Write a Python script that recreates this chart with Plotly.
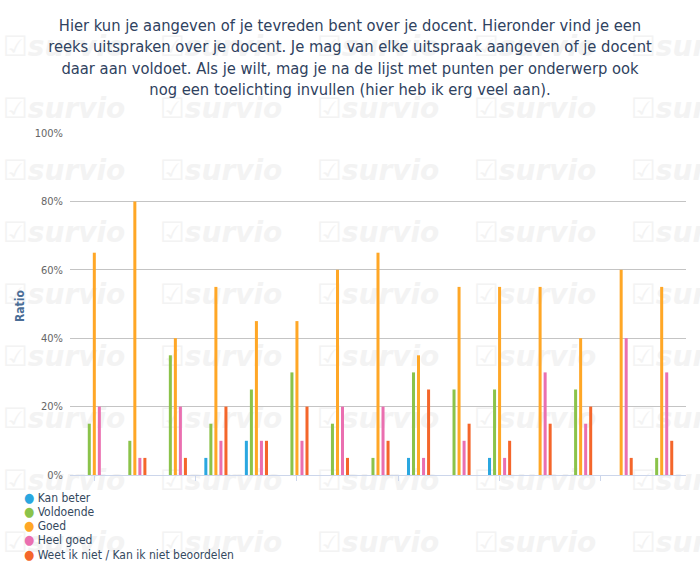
import plotly.graph_objects as go

# ---- data ----
groups = list(range(15))  # 15 statements (no labels shown)
series_names = ["Kan beter", "Voldoende", "Goed", "Heel goed",
                "Weet ik niet / Kan ik niet beoordelen"]
kan_beter = [0, 0, 0, 5, 10, 0, 0, 0, 5, 0, 5, 0, 0, 0, 0]
voldoende = [15, 10, 35, 15, 25, 30, 15, 5, 30, 25, 25, 0, 25, 0, 5]
goed = [65, 80, 40, 55, 45, 45, 60, 65, 35, 55, 55, 55, 40, 60, 55]
heel_goed = [20, 5, 20, 10, 10, 10, 20, 20, 5, 10, 5, 30, 15, 40, 30]
weet_niet = [0, 5, 5, 20, 10, 20, 5, 10, 25, 15, 10, 15, 20, 5, 10]
series_values = [kan_beter, voldoende, goed, heel_goed, weet_niet]
colors = ["#2aa7e0", "#8bc34a", "#ffa726", "#ea6fb0", "#f4662b"]
y_ticks = [0, 20, 40, 60, 80, 100]
y_tick_labels = ["0%", "20%", "40%", "60%", "80%", "100%"]

title_lines = [
    "Hier kun je aangeven of je tevreden bent over je docent. Hieronder vind je een",
    "reeks uitspraken over je docent. Je mag van elke uitspraak aangeven of je docent",
    "daar aan voldoet. Als je wilt, mag je na de lijst met punten per onderwerp ook",
    "nog een toelichting invullen (hier heb ik erg veel aan).",
]

FONT = "DejaVu Sans Condensed, DejaVu Sans, sans-serif"
W, H = 700, 581
L, R, T, B = 70, 14, 133, 106
PW, PH = W - L - R, H - T - B

def px_to_paper(px, py):
    return (px - L) / PW, (H - B - py) / PH

fig = go.Figure()
for name, vals, col in zip(series_names, series_values, colors):
    fig.add_trace(go.Bar(x=groups, y=vals, name=name, marker_color=col,
                         marker_line_width=0, showlegend=False))

# watermark tiles (background decoration)
shapes = []
for j in range(10):
    for k in range(5):
        cx, cy = 64 + 157 * k, 44 + 62 * j
        x0, y0 = px_to_paper(cx - 70, cy - 25)
        x1, y1 = px_to_paper(cx + 70, cy + 25)
        shapes.append(dict(type="rect", xref="paper", yref="paper",
                           x0=x0, x1=x1, y0=y1, y1=y0, line_width=0,
                           fillcolor="rgba(0,0,0,0)", layer="below",
                           label=dict(text="☑survio", textposition="middle center",
                                      font=dict(family="DejaVu Sans", size=28,
                                                color="#f3f3f3", weight="bold",
                                                style="italic"))))

annotations = []
# y axis title
ax, ay = px_to_paper(20, 306)
annotations.append(dict(xref="paper", yref="paper", x=ax, y=ay, text="<b>Ratio</b>",
                        textangle=-90, showarrow=False, xanchor="center", yanchor="middle",
                        font=dict(family=FONT, size=12, color="#4a6d96")))
# legend (built from series names and colours)
for i, (name, col) in enumerate(zip(series_names, colors)):
    py = 497 + 14.3 * i
    tx, ty = px_to_paper(22, py)
    annotations.append(dict(xref="paper", yref="paper", x=tx, y=ty,
                            text=f"<span style='color:{col};font-size:13px'>●</span> {name}",
                            showarrow=False, xanchor="left", yanchor="middle",
                            font=dict(family=FONT, size=12, color="#34495e")))

fig.update_layout(
    width=W, height=H,
    margin=dict(l=L, r=R, t=T, b=B),
    paper_bgcolor="white", plot_bgcolor="rgba(0,0,0,0)",
    barmode="group", bargap=0.38, bargroupgap=0.4,
    title=dict(text="<br>".join(title_lines), x=0.5, xanchor="center",
               y=1 - 31 / H, yanchor="top", yref="container",
               font=dict(family=FONT, size=16.4, color="#2f4260")),
    xaxis=dict(range=[-0.6, 14.6], tickmode="linear", tick0=0, dtick=2.5,
               showticklabels=False, ticks="outside", ticklen=5, tickcolor="#ccd6eb",
               showline=True, linecolor="#ccd6eb", linewidth=1, showgrid=False,
               zeroline=False),
    yaxis=dict(range=[0, 100], tickvals=y_ticks, ticktext=y_tick_labels,
               showgrid=True, gridcolor="#c4c4c4", gridwidth=1, zeroline=False,
               ticks="", ticklabelstandoff=6,
               tickfont=dict(family=FONT, size=11, color="#666666")),
    shapes=shapes, annotations=annotations,
)

fig.write_html("out.html")
